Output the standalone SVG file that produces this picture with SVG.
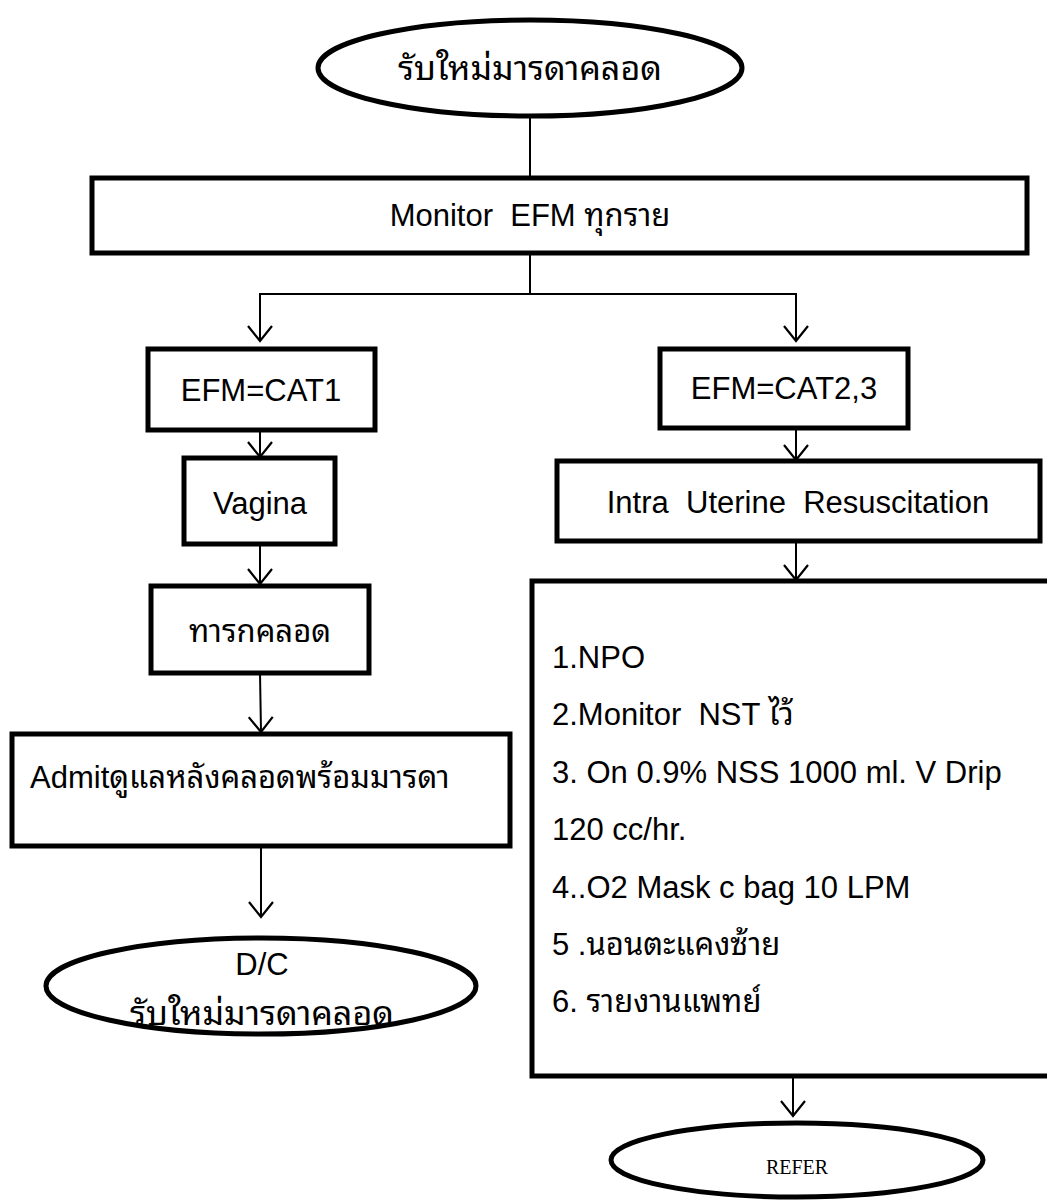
<svg xmlns="http://www.w3.org/2000/svg" width="1047" height="1201" viewBox="0 0 1047 1201">
<style>
.box{fill:#fff;stroke:#000;stroke-width:5}
.ell{fill:#fff;stroke:#000;stroke-width:5}
.t{font-family:"Liberation Sans","Noto Sans Thai Looped","Noto Serif Thai","Noto Sans Thai",sans-serif;font-size:31px;fill:#000;white-space:pre}
.c{text-anchor:middle}
.ln{fill:none;stroke:#000;stroke-width:2}
.ar{fill:none;stroke:#000;stroke-width:2}
</style>
<defs>
<marker id="v" viewBox="0 0 20 26" refX="18" refY="13" markerWidth="20" markerHeight="26" markerUnits="userSpaceOnUse" orient="auto">
<polyline points="3,1 18,13 3,25" fill="none" stroke="#000" stroke-width="2.2"/>
</marker>
</defs>
<g id="connectors">
<line class="ln" x1="530" y1="116" x2="530" y2="178"/>
<polyline class="ln" points="530,253 530,294 260,294 260,341" marker-end="url(#v)"/>
<polyline class="ln" points="530,294 796,294 796,341" marker-end="url(#v)"/>
<line class="ar" x1="260" y1="430" x2="260" y2="457" marker-end="url(#v)"/>
<line class="ar" x1="260" y1="544" x2="260" y2="584" marker-end="url(#v)"/>
<line class="ar" x1="260" y1="673" x2="261" y2="732" marker-end="url(#v)"/>
<line class="ar" x1="261" y1="846" x2="261" y2="917" marker-end="url(#v)"/>
<line class="ar" x1="796" y1="428" x2="796" y2="460" marker-end="url(#v)"/>
<line class="ar" x1="796" y1="541" x2="796" y2="580" marker-end="url(#v)"/>
<line class="ar" x1="793" y1="1076" x2="793" y2="1116" marker-end="url(#v)"/>
</g>
<g id="start">
<ellipse class="ell" cx="530" cy="68" rx="212" ry="48"/>
<text class="t c" x="530" y="80" style="font-size:34px">รับใหม่มารดาคลอด</text>
</g>
<g id="monitor">
<rect class="box" x="92" y="178" width="935" height="75"/>
<text class="t c" x="530" y="226">Monitor  EFM ทุกราย</text>
</g>
<g id="cat1">
<rect class="box" x="148" y="349" width="227" height="81"/>
<text class="t c" x="261" y="401">EFM=CAT1</text>
</g>
<g id="vagina">
<rect class="box" x="184" y="458" width="151" height="86"/>
<text class="t c" x="260" y="514">Vagina</text>
</g>
<g id="baby">
<rect class="box" x="151" y="586" width="218" height="87"/>
<text class="t c" x="260" y="642">ทารกคลอด</text>
</g>
<g id="admit">
<rect class="box" x="12" y="734" width="498" height="112"/>
<text class="t" x="30" y="788">Admitดูแลหลังคลอดพร้อมมารดา</text>
</g>
<g id="dc">
<ellipse class="ell" cx="261" cy="986" rx="215" ry="48"/>
<text class="t c" x="262" y="975">D/C</text>
<text class="t c" x="262" y="1025" style="font-size:34px">รับใหม่มารดาคลอด</text>
</g>
<g id="cat23">
<rect class="box" x="660" y="349" width="248" height="79"/>
<text class="t c" x="784" y="399">EFM=CAT2,3</text>
</g>
<g id="iur">
<rect class="box" x="557" y="461" width="483" height="80"/>
<text class="t c" x="798" y="513">Intra  Uterine  Resuscitation</text>
</g>
<g id="orders">
<rect class="box" x="532" y="581" width="520" height="495"/>
<text class="t" x="552" y="668">1.NPO</text>
<text class="t" x="552" y="725">2.Monitor  NST ไว้</text>
<text class="t" x="552" y="783">3. On 0.9% NSS 1000 ml. V Drip</text>
<text class="t" x="552" y="840">120 cc/hr.</text>
<text class="t" x="552" y="898">4..O2 Mask c bag 10 LPM</text>
<text class="t" x="552" y="955">5 .นอนตะแคงซ้าย</text>
<text class="t" x="552" y="1012">6. รายงานแพทย์</text>
</g>
<g id="refer">
<ellipse class="ell" cx="797" cy="1160" rx="186" ry="37"/>
<text x="797" y="1174" text-anchor="middle" style="font-family:'Liberation Serif',serif;font-size:20px">REFER</text>
</g>
</svg>
